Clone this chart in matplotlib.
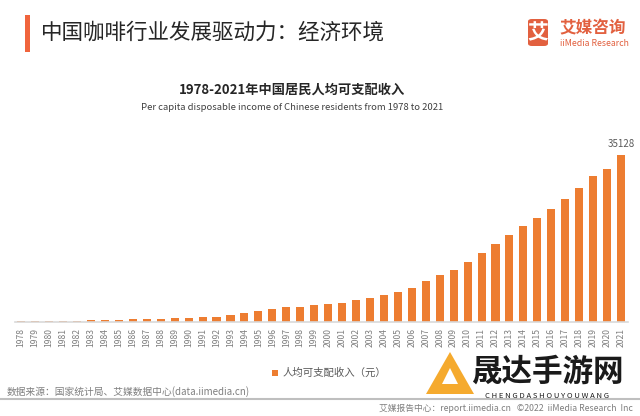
import matplotlib.pyplot as plt
from matplotlib.patches import FancyBboxPatch, Rectangle, Polygon

plt.rcParams['font.family'] = ['Noto Sans CJK SC', 'DejaVu Sans']

# 全国居民人均可支配收入（元）
years = list(range(1978, 2022))
income = [171, 205, 247, 271, 314, 348, 402, 478, 533, 596,
          703, 788, 904, 976, 1125, 1385, 1870, 2363, 2814, 3070,
          3254, 3485, 3721, 4070, 4532, 5007, 5661, 6385, 7229, 8584,
          9957, 10977, 12520, 14551, 16510, 18311, 20167, 21966, 23821, 25974,
          28228, 30733, 32189, 35128]

W, H = 640, 416
BAR = '#ED7D31'
GRAY = '#7F7F7F'


def fx(px):
    return px / W


def fy(py):
    return 1 - py / H


fig = plt.figure(figsize=(6.4, 4.16), dpi=100)
fig.patch.set_facecolor('white')

# chart area
ax_left, ax_right = 15, 628
ax_bottom, ax_top = 322, 141.4
ax = fig.add_axes([fx(ax_left), fy(ax_bottom), (ax_right - ax_left) / W, (ax_bottom - ax_top) / H])
x = list(range(len(years)))
ax.bar(x, income, width=0.58, color=BAR, zorder=2)
ax.set_xlim(-0.45, len(years) - 0.5)
ax.set_ylim(0, 38000)
ax.set_xticks(x)
ax.set_xticklabels([str(y) for y in years], rotation=90, fontsize=6.2, color=GRAY)
ax.tick_params(axis='x', length=0, pad=4)
ax.set_yticks([])
for s in ['top', 'right', 'left']:
    ax.spines[s].set_visible(False)
ax.spines['bottom'].set_color('#D9D9D9')
ax.spines['bottom'].set_linewidth(1.2)
ax.annotate(str(income[-1]), (x[-1], income[-1]), xytext=(0, 4), textcoords='offset points',
            ha='center', va='bottom', fontsize=7, color='#595959')

# header
fig.patches.append(Rectangle((fx(25), fy(52)), 5 / W, 37 / H, transform=fig.transFigure,
                             color='#F0643C', lw=0))
fig.text(fx(41), fy(33), '中国咖啡行业发展驱动力：经济环境', fontsize=15.5, color='#262626',
         ha='left', va='center', fontweight='medium')

# logo
fig.patches.append(FancyBboxPatch((fx(528), fy(46)), 20 / W, 27 / H, transform=fig.transFigure,
                                  boxstyle='round,pad=0,rounding_size=0.006', color='#E2603F', lw=0))
fig.text(fx(538), fy(32.5), '艾', fontsize=15, color='white', ha='center', va='center',
         fontweight='bold')
fig.text(fx(559), fy(28), '艾媒咨询', fontsize=12, color='#E2603F', ha='left', va='center',
         fontweight='bold')
fig.text(fx(560), fy(43), 'iiMedia Research', fontsize=6.3, color='#E2603F', ha='left', va='center')

# chart titles
fig.text(fx(292), fy(90), '1978-2021年中国居民人均可支配收入', fontsize=9.5, color='#262626',
         ha='center', va='center', fontweight='bold')
fig.text(fx(292), fy(108), 'Per capita disposable income of Chinese residents from 1978 to 2021',
         fontsize=6.8, color='#404040', ha='center', va='center')

# legend
fig.patches.append(Rectangle((fx(272), fy(376)), 6 / W, 6 / H, transform=fig.transFigure,
                             color=BAR, lw=0))
fig.text(fx(283), fy(373), '人均可支配收入（元）', fontsize=7.5, color='#595959', ha='left', va='center')

# footer
fig.text(fx(7), fy(392), '数据来源：国家统计局、艾媒数据中心(data.iimedia.cn)', fontsize=7,
         color=GRAY, ha='left', va='center')
fig.lines.append(plt.Line2D([0, 1], [fy(399), fy(399)], transform=fig.transFigure,
                            color='#BFBFBF', lw=1.5))
fig.text(fx(633), fy(408), '艾媒报告中心：report.iimedia.cn   ©2022  iiMedia Research  Inc',
         fontsize=6.3, color=GRAY, ha='right', va='center')

# site watermark
fig.patches.append(Polygon([(fx(450), fy(352)), (fx(474), fy(394)), (fx(426), fy(394))],
                           closed=True, transform=fig.transFigure, color='#F5A623', lw=0, alpha=0.95))
fig.patches.append(Polygon([(fx(450), fy(368)), (fx(458), fy(384)), (fx(442), fy(384))],
                           closed=True, transform=fig.transFigure, color='white', lw=0))
fig.text(fx(547), fy(372), '晟达手游网', fontsize=22, color='#1A1A1A', ha='center', va='center',
         fontweight='bold')
fig.text(fx(547), fy(396), 'C H E N G D A S H O U Y O U W A N G', fontsize=5.5, color='#1A1A1A',
         ha='center', va='center')

fig.savefig('out.png', dpi=100, facecolor='white')
